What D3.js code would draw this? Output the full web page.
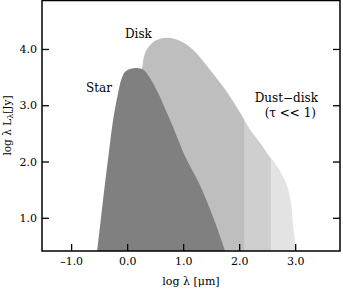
<!DOCTYPE html>
<html>
<head>
<meta charset="utf-8">
<script src="https://cdn.jsdelivr.net/npm/d3@7"></script>
<style>
  body { margin: 0; background: #fff; }
  text { font-family: "DejaVu Serif", serif; fill: #000; }
</style>
</head>
<body>
<div id="chart"></div>
<script>
// spectral energy distribution pieces (log lambda [um], log lambda L_lambda [Jy])
const starX = [-0.62, -0.536, -0.43, -0.32, -0.25, -0.16, -0.107, -0.04, 0.05, 0.18, 0.29, 0.41, 0.55, 0.82, 1.04, 1.30, 1.52, 1.75, 1.82];
const starY = [-0.2, 0.41, 1.32, 2.21, 2.74, 3.22, 3.45, 3.59, 3.645, 3.66, 3.63, 3.48, 3.22, 2.61, 2.08, 1.58, 1.05, 0.41, 0.2];

const diskX = [-0.04, 0.09, 0.20, 0.27, 0.32, 0.45, 0.59, 0.73, 0.95, 1.18, 1.48, 1.79, 2.02, 2.20, 2.375, 2.55, 2.64, 2.77, 2.86, 2.93, 2.96, 3.0, 3.04];
const diskY = [0.1, 2.21, 3.27, 3.68, 3.93, 4.11, 4.18, 4.2, 4.14, 3.98, 3.63, 3.22, 2.86, 2.56, 2.33, 2.08, 1.97, 1.76, 1.55, 1.23, 0.87, 0.55, 0.1];

// the disk SED is shaded in bands split at these wavelengths
const bandEdges = [2.1, 2.57];
const bandColors = ["#bebebe", "#cfcfcf", "#e3e3e3"];
const starColor = "#808080";

const xTicks = [-1, 0, 1, 2, 3];
const yTicks = [1, 2, 3, 4];

const W = 343, H = 289;
const pL = 42, pR = 340, pT = 0, pB = 251;

const svg = d3.select("#chart").append("svg")
    .attr("width", W)
    .attr("height", H);

const x = d3.scaleLinear().domain([-1.52, 3.8]).range([pL, pR]);
const y = d3.scaleLinear().domain([0.41, 4.87]).range([pB, pT]);

//clip for plot box and the colour bands
const defs = svg.append("defs");
defs.append("clipPath").attr("id", "plotclip")
    .append("rect").attr("x", pL).attr("y", pT).attr("width", pR - pL).attr("height", pB - pT);

const bandLims = [-1.52].concat(bandEdges).concat([3.8]);
bandColors.forEach((c, i) => {
    defs.append("clipPath").attr("id", "band" + i)
        .append("rect")
        .attr("x", x(bandLims[i]))
        .attr("y", pT)
        .attr("width", x(bandLims[i + 1]) - x(bandLims[i]))
        .attr("height", pB - pT);
});

const area = d3.area()
    .x(d => x(d[0]))
    .y0(y(0))
    .y1(d => y(d[1]))
    .curve(d3.curveCatmullRom.alpha(0.5));

const disk = diskX.map((v, i) => [v, diskY[i]]);
const star = starX.map((v, i) => [v, starY[i]]);

const g = svg.append("g").attr("clip-path", "url(#plotclip)");

bandColors.forEach((c, i) => {
    g.append("g").attr("clip-path", `url(#band${i})`)
        .append("path")
        .datum(disk)
        .attr("d", area)
        .attr("fill", c);
});

g.append("path")
    .datum(star)
    .attr("d", area)
    .attr("fill", starColor);

//Axes with inward ticks
const fmt = d => (d < 0 ? "\u2013" + Math.abs(d).toFixed(1) : d.toFixed(1));

const xAxis = svg.append("g")
    .attr("transform", `translate(0,${pB})`)
    .call(d3.axisBottom(x).tickValues(xTicks).tickSizeInner(-7).tickSizeOuter(0).tickPadding(6).tickFormat(fmt));
const yAxis = svg.append("g")
    .attr("transform", `translate(${pL},0)`)
    .call(d3.axisLeft(y).tickValues(yTicks).tickSizeInner(-7).tickSizeOuter(0).tickPadding(5).tickFormat(fmt));
const yAxisR = svg.append("g")
    .attr("transform", `translate(${pR},0)`)
    .call(d3.axisRight(y).tickValues(yTicks).tickSizeInner(-7).tickSizeOuter(0).tickFormat(""));

[xAxis, yAxis, yAxisR].forEach(a => {
    a.select(".domain").remove();
    a.selectAll("line").attr("stroke", "#000").attr("stroke-width", 1.3);
    a.selectAll("text").style("font-family", "DejaVu Serif, serif").style("font-size", "11px").attr("fill", "#000");
});

//frame
svg.append("rect")
    .attr("x", pL).attr("y", pT + 0.5)
    .attr("width", pR - pL).attr("height", pB - pT - 0.5)
    .attr("fill", "none").attr("stroke", "#000").attr("stroke-width", 1.5);

//labels
const lab = (tx, ty, s, anchor) => svg.append("text")
    .attr("x", tx).attr("y", ty)
    .attr("text-anchor", anchor || "start")
    .attr("dominant-baseline", "middle")
    .style("font-size", "12px")
    .text(s);

lab(86, 88, "Star");
lab(125, 34, "Disk");
lab(318, 98, "Dust\u2212disk", "end");
lab(316, 113, "(\u03c4 << 1)", "end");

svg.append("text")
    .attr("x", (pL + pR) / 2).attr("y", 282)
    .attr("text-anchor", "middle")
    .attr("dominant-baseline", "middle")
    .style("font-size", "11px")
    .text("log \u03bb [\u03bcm]");

svg.append("text")
    .attr("transform", `translate(8,${(pT + pB) / 2}) rotate(-90)`)
    .attr("text-anchor", "middle")
    .attr("dominant-baseline", "middle")
    .style("font-size", "10.5px")
    .html("log \u03bb L<tspan dy='3' font-size='8px'>\u03bb</tspan><tspan dy='-3'>[Jy]</tspan>");
</script>
</body>
</html>
